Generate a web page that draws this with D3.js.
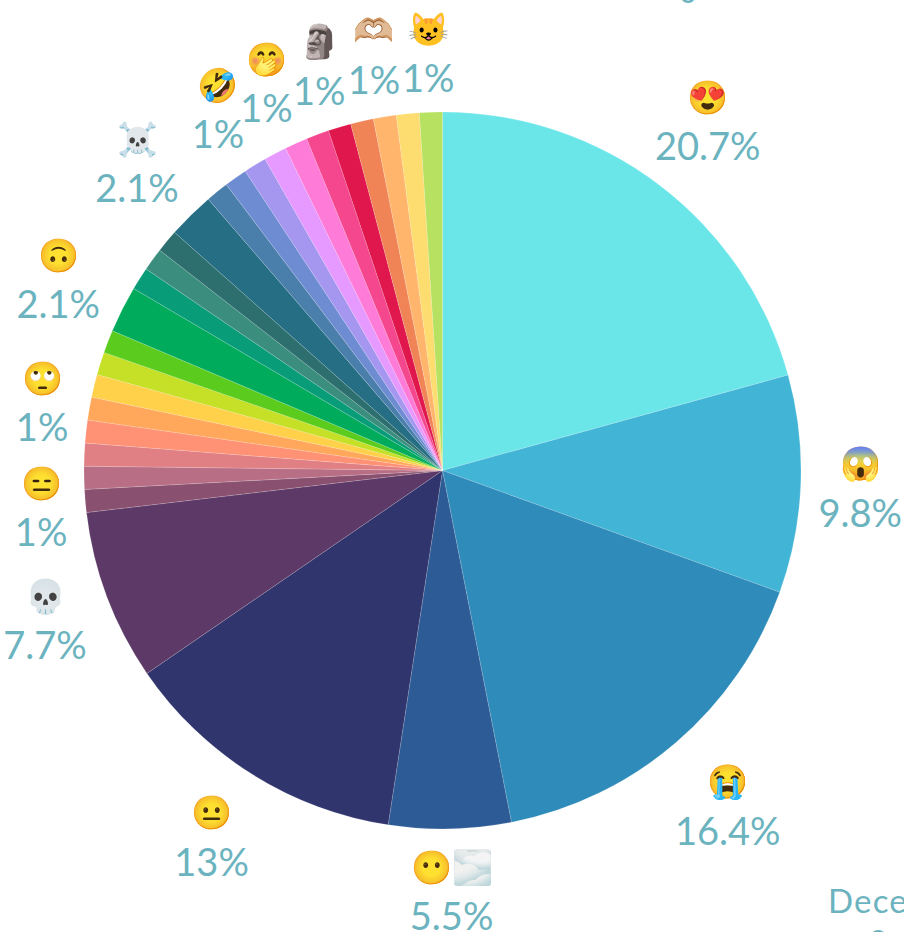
<!DOCTYPE html>
<html>
<head>
<meta charset="utf-8">
<script src="https://cdn.jsdelivr.net/npm/d3@7"></script>
<style>
  html, body { margin: 0; padding: 0; background: #fff; overflow: hidden; }
  text { font-family: Lato, sans-serif; fill: #6bb3be; }
</style>
</head>
<body>
<div id="chart"></div>
<script>
// share of each slice in percent, clockwise from twelve o'clock
var shares = [20.7, 9.8, 16.4, 5.5, 13, 7.7, 1.03, 1.03, 1.03,
              1.03, 1.03, 1.03, 1.03, 1.03, 2.1, 1.03, 1.03, 1.03,
              2.1, 1.03, 1.03, 1.03, 1.03, 1.03, 1.03, 1.03, 1.03,
              1.03, 1.03, 1.03];
var sliceColors = ["#6ae6e9", "#42b4d6", "#2e8bba", "#2c5b96", "#30356e", "#5c3966", "#8a5070", "#b86f85", "#e08085",
                   "#ff9175", "#ffa85c", "#ffd04a", "#c6df27", "#5bcc1e", "#00ac5c", "#089c78", "#3b8e7e", "#2d6e6e",
                   "#256e84", "#4a7eab", "#6e8cd1", "#a596f0", "#e69aff", "#ff7bd8", "#f4478e", "#e0174c", "#f08456",
                   "#ffb56b", "#fddd70", "#b7e160"];

// only some slices carry a label: index of the slice, its emoji and its text
var labelled = [0, 1, 2, 3, 4, 5, 6, 10, 14, 18, 21, 23, 25, 27, 29];
var labelEmoji = ["😍", "😱", "😭", "😶🌫️", "😐", "💀", "😑", "🙄", "🙃", "☠️", "🤣", "🤭", "🗿", "🫶🏼", "😺"];
var labelText = ["20.7%", "9.8%", "16.4%", "5.5%", "13%", "7.7%", "1%", "1%", "2.1%", "2.1%", "1%", "1%", "1%", "1%", "1%"];

// labels were pushed in from the edge and away from each other, so shift them by hand
var labelShift = [[0, 0], [-20, 1], [0, 3.5], [0, -16.5], [2, -4], [12.5, -4], [35, 0], [31, 8],
                  [7, 6], [2, 5], [4.5, 12.5], [3, 13], [2.5, 15.5], [2, 17], [0, 21]];

var svg = d3.select("#chart").append("svg").attr("width", 904).attr("height", 932);
var pieGroup = svg.append("g").attr("transform", "translate(442.5,470.5)");

var pie = d3.pie().sort(null);
var arc = d3.arc().innerRadius(0).outerRadius(358.5);
var labelArc = d3.arc().innerRadius(438).outerRadius(438);
var arcs = pie(shares);

// render the slices
pieGroup.selectAll("path")
    .data(arcs)
    .enter()
      .append("path")
      .attr("d", arc)
      .attr("fill", function(d, i) { return sliceColors[i]; })
      .attr("stroke", "#fff")
      .attr("stroke-opacity", 0.5)
      .attr("stroke-width", 0.3);

// render emoji and percentage above each other
labelled.forEach(function(s, i) {
  var c = labelArc.centroid(arcs[s]);
  var x = c[0] + labelShift[i][0];
  var y = c[1] + labelShift[i][1];
  pieGroup.append("text")
      .attr("x", x)
      .attr("y", y - 13)
      .attr("text-anchor", "middle")
      .attr("font-size", 33)
      .text(labelEmoji[i]);
  pieGroup.append("text")
      .attr("x", x)
      .attr("y", y + 38.5)
      .attr("text-anchor", "middle")
      .attr("font-size", 38)
      .text(labelText[i]);
});

// pieces of the neighbouring labels that the crop cuts off
svg.append("text").attr("x", 828).attr("y", 913).attr("font-size", 33).attr("letter-spacing", 1.2).text("December");
svg.append("text").attr("x", 878).attr("y", 952).attr("text-anchor", "middle").attr("font-size", 31).text("2");
svg.append("text").attr("x", 688).attr("y", 3).attr("text-anchor", "middle").attr("font-size", 31).text("0");
</script>
</body>
</html>
